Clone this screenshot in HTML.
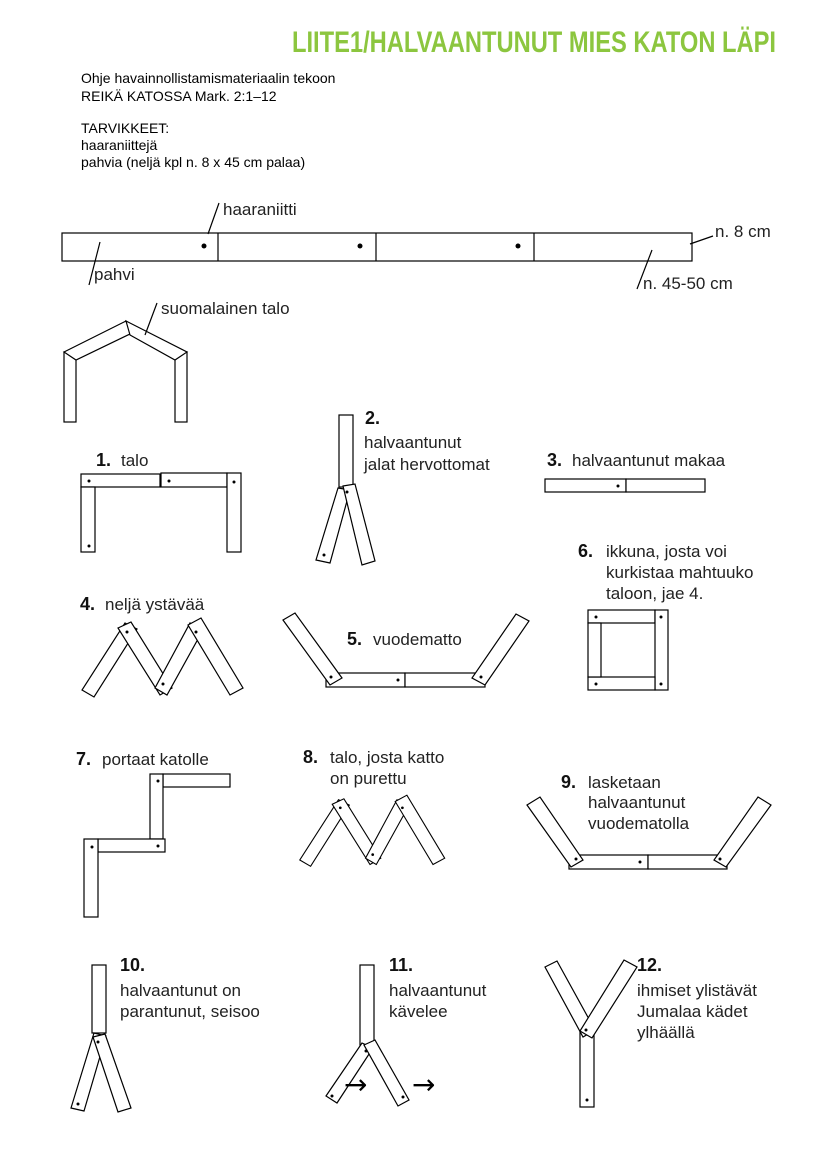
<!DOCTYPE html>
<html><head><meta charset="utf-8"><style>
body{margin:0;background:#fff}
svg{display:block}
.t{font-family:"Liberation Sans",sans-serif;font-size:17px;fill:#222;font-weight:300}
.b{font-family:"Liberation Sans",sans-serif;font-size:18px;font-weight:bold;fill:#111}
.s{font-family:"Liberation Sans",sans-serif;font-size:14px;fill:#000}
rect,polygon{fill:#fff;stroke:#000;stroke-width:1.2}
circle{fill:#000}
line{stroke:#000;stroke-width:1.2}
</style></head><body>
<svg width="826" height="1169" viewBox="0 0 826 1169" xmlns="http://www.w3.org/2000/svg">
<text x="776" y="52" text-anchor="end" textLength="484" lengthAdjust="spacingAndGlyphs" style="font-family:'Liberation Sans',sans-serif;font-weight:bold;font-size:30px;fill:#8cc63f">LIITE1/HALVAANTUNUT MIES KATON LÄPI</text>
<text class="s" x="81" y="83">Ohje havainnollistamismateriaalin tekoon</text>
<text class="s" x="81" y="101">REIKÄ KATOSSA Mark. 2:1–12</text>
<text class="s" x="81" y="133">TARVIKKEET:</text>
<text class="s" x="81" y="150">haaraniittejä</text>
<text class="s" x="81" y="167">pahvia (neljä kpl n. 8 x 45 cm palaa)</text>

<rect x="62" y="233" width="630" height="28"/>
<line x1="218" y1="233" x2="218" y2="261"/><line x1="376" y1="233" x2="376" y2="261"/><line x1="534" y1="233" x2="534" y2="261"/>
<circle cx="204" cy="246" r="2.5"/><circle cx="360" cy="246" r="2.5"/><circle cx="518" cy="246" r="2.5"/>
<line x1="208" y1="234" x2="219" y2="203"/><text class="t" x="223" y="215">haaraniitti</text>
<line x1="89" y1="285" x2="100" y2="242"/><text class="t" x="94" y="280">pahvi</text>
<line x1="637" y1="289" x2="652" y2="250"/><text class="t" x="643" y="289">n. 45-50 cm</text>
<line x1="690" y1="244" x2="713" y2="236"/><text class="t" x="715" y="237">n. 8 cm</text>

<rect x="64" y="352" width="12" height="70"/><rect x="175" y="352" width="12" height="70"/>
<polygon points="64,352 126,321 132,333 76,360"/>
<polygon points="126,321 187,352 175,360 130,335"/>
<line x1="145" y1="335" x2="157" y2="303"/><text class="t" x="161" y="314">suomalainen talo</text>

<text class="b" x="96" y="466">1.</text><text class="t" x="121" y="466">talo</text>
<rect x="81" y="474" width="79" height="13"/><rect x="161" y="473" width="66" height="14"/>
<rect x="81" y="487" width="14" height="65"/><rect x="227" y="473" width="14" height="79"/>
<circle cx="89" cy="481" r="1.5"/><circle cx="169" cy="481" r="1.5"/><circle cx="234" cy="482" r="1.5"/><circle cx="89" cy="546" r="1.5"/>

<text class="b" x="365" y="424">2.</text><text class="t" x="364" y="448">halvaantunut</text><text class="t" x="364" y="470">jalat hervottomat</text>
<rect x="339" y="415" width="14" height="72"/>
<polygon points="338,488 350,490 330,563 316,560"/>
<polygon points="343,486 355,484 375,561 362,565"/>
<circle cx="347" cy="492" r="1.5"/><circle cx="324" cy="555" r="1.5"/>

<text class="b" x="547" y="466">3.</text><text class="t" x="572" y="466">halvaantunut makaa</text>
<rect x="545" y="479" width="81" height="13"/><rect x="626" y="479" width="79" height="13"/>
<circle cx="618" cy="486" r="1.5"/>

<text class="b" x="80" y="610">4.</text><text class="t" x="105" y="610">neljä ystävää</text>
<g id="m">
<polygon points="82,690 94,697 137,629 125,623"/>
<polygon points="118,628 131,622 172,688 160,695"/>
<polygon points="155,688 167,695 203,630 190,623"/>
<polygon points="188,625 201,618 243,688 230,695"/>
<circle cx="127" cy="632" r="1.5"/><circle cx="163" cy="684" r="1.5"/><circle cx="196" cy="632" r="1.5"/>
</g>

<text class="b" x="347" y="645">5.</text><text class="t" x="373" y="645">vuodematto</text>
<rect x="326" y="673" width="79" height="14"/><rect x="405" y="673" width="80" height="14"/>
<polygon points="283,620 295,613 342,678 330,685"/>
<polygon points="516,614 529,621 485,685 472,678"/>
<circle cx="331" cy="677" r="1.5"/><circle cx="398" cy="680" r="1.5"/><circle cx="481" cy="677" r="1.5"/>

<text class="b" x="578" y="557">6.</text><text class="t" x="606" y="557">ikkuna, josta voi</text><text class="t" x="606" y="578">kurkistaa mahtuuko</text><text class="t" x="606" y="599">taloon, jae 4.</text>
<rect x="588" y="610" width="67" height="13"/><rect x="655" y="610" width="13" height="80"/>
<rect x="588" y="677" width="67" height="13"/><rect x="588" y="623" width="13" height="54"/>
<circle cx="596" cy="617" r="1.5"/><circle cx="661" cy="617" r="1.5"/><circle cx="596" cy="684" r="1.5"/><circle cx="661" cy="684" r="1.5"/>

<text class="b" x="76" y="765">7.</text><text class="t" x="102" y="765">portaat katolle</text>
<rect x="163" y="774" width="67" height="13"/><rect x="150" y="774" width="13" height="65"/>
<rect x="98" y="839" width="67" height="13"/><rect x="84" y="839" width="14" height="78"/>
<circle cx="158" cy="781" r="1.5"/><circle cx="92" cy="847" r="1.5"/><circle cx="158" cy="846" r="1.5"/>

<text class="b" x="303" y="763">8.</text><text class="t" x="330" y="763">talo, josta katto</text><text class="t" x="330" y="784">on purettu</text>
<use href="#m" transform="translate(226,239) scale(0.9)"/>

<text class="b" x="561" y="788">9.</text><text class="t" x="588" y="788">lasketaan</text><text class="t" x="588" y="808">halvaantunut</text><text class="t" x="588" y="829">vuodematolla</text>
<rect x="569" y="855" width="79" height="14"/><rect x="648" y="855" width="79" height="14"/>
<polygon points="527,805 540,797 583,860 571,867"/>
<polygon points="758,797 771,805 726,867 714,860"/>
<circle cx="576" cy="859" r="1.5"/><circle cx="640" cy="862" r="1.5"/><circle cx="720" cy="859" r="1.5"/>

<text class="b" x="120" y="971">10.</text><text class="t" x="120" y="996">halvaantunut on</text><text class="t" x="120" y="1017">parantunut, seisoo</text>
<rect x="92" y="965" width="14" height="68"/>
<polygon points="94,1033 106,1036 84,1111 71,1108"/>
<polygon points="93,1037 105,1034 131,1108 118,1112"/>
<circle cx="98" cy="1042" r="1.5"/><circle cx="78" cy="1104" r="1.5"/>

<text class="b" x="389" y="971">11.</text><text class="t" x="389" y="996">halvaantunut</text><text class="t" x="389" y="1017">kävelee</text>
<rect x="360" y="965" width="14" height="80"/>
<polygon points="362,1043 373,1048 337,1103 326,1096"/>
<polygon points="364,1045 375,1040 409,1100 398,1106"/>
<circle cx="366" cy="1051" r="1.5"/><circle cx="332" cy="1096" r="1.5"/><circle cx="403" cy="1097" r="1.5"/>
<text x="344" y="1094" style="font-family:'DejaVu Sans',sans-serif;font-size:28px">→</text>
<text x="412" y="1094" style="font-family:'DejaVu Sans',sans-serif;font-size:28px">→</text>

<text class="b" x="637" y="971">12.</text><text class="t" x="637" y="996">ihmiset ylistävät</text><text class="t" x="637" y="1017">Jumalaa kädet</text><text class="t" x="637" y="1038">ylhäällä</text>
<rect x="580" y="1032" width="14" height="75"/>
<polygon points="545,967 557,961 595,1030 583,1037"/>
<polygon points="624,960 637,967 592,1038 580,1031"/>
<circle cx="586" cy="1030" r="1.5"/><circle cx="587" cy="1100" r="1.5"/>
</svg>
</body></html>
